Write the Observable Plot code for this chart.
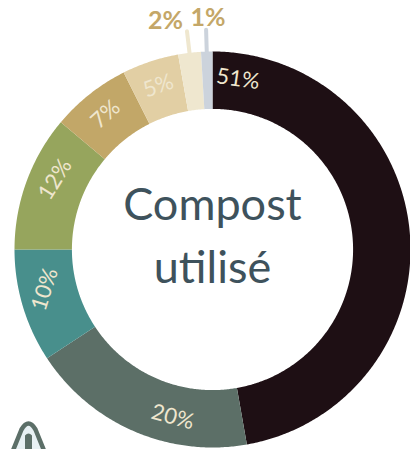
<!DOCTYPE html>
<html lang="fr">
<head>
<meta charset="utf-8">
<script src="https://cdn.jsdelivr.net/npm/d3@7"></script>
<script src="https://cdn.jsdelivr.net/npm/@observablehq/plot@0.6"></script>
<style>
  html, body { margin: 0; padding: 0; background: #fff; }
  svg { display: block; }
</style>
</head>
<body>
<div id="chart"></div>
<script>
// Share of each answer, as printed on the ring.
const labels = ["51%", "20%", "10%", "12%", "7%", "5%", "2%", "1%"];
const values = [51, 20, 10, 12, 7, 5, 2, 1];
const palette = ["#1e0f14", "#5c6f67", "#488f8c", "#96a55d", "#c2a768", "#e2cfa4", "#efe7cf", "#ccd3dc"];
const titleLines = ["Compost", "utilisé"];

// Where along its slice each inner label sits, and how far it is turned.
const labelAlong = [0.05, 0.35, 0.6, 0.6, 0.5, 0.5];
const labelTurn = [8, 15, -72, -58, -42, -20];

const width = 410, height = 449;
const cx = 212, cy = 249, outerPx = 198;
const inner = 0.71;
const total = d3.sum(values);

// Clockwise from twelve o'clock, in a unit-radius coordinate system.
const polar = (deg, r) => {
  const a = (deg * Math.PI) / 180;
  return { x: r * Math.sin(a), y: r * Math.cos(a) };
};

let running = 0;
const slices = values.map((v, i) => {
  const start = (running / total) * 360;
  running += v;
  return { label: labels[i], value: v, start, end: (running / total) * 360 };
});

// Each slice outline: the outer arc forward, the inner arc back.
const outline = slices.flatMap((s) => {
  const n = Math.max(2, Math.ceil(s.end - s.start) * 2);
  const angles = d3.range(n + 1).map((k) => s.start + ((s.end - s.start) * k) / n);
  return [
    ...angles.map((a) => ({ label: s.label, ...polar(a, 1) })),
    ...angles.slice().reverse().map((a) => ({ label: s.label, ...polar(a, inner) }))
  ];
});

const innerLabels = slices.slice(0, 6).map((s, i) => ({
  label: s.label,
  turn: labelTurn[i],
  ...polar(s.start + (s.end - s.start) * labelAlong[i], 0.87)
}));

// The two thinnest slices get their label outside the ring, on a leader.
const outerSlices = slices.slice(6).map((s) => {
  const mid = (s.start + s.end) / 2;
  const from = polar(mid, 0.995), to = polar(mid, 1.11);
  return { label: s.label, x1: from.x, y1: from.y, x2: to.x, y2: to.y };
});

// Badge shapes: a triangle with a rounded apex, and its upright stem.
const badgeShape = {
  draw(context) {
    context.moveTo(-24, 30);
    context.lineTo(-7, -12);
    context.quadraticCurveTo(0, -24, 7, -12);
    context.lineTo(24, 30);
    context.closePath();
  }
};
const stemShape = {
  draw(context) {
    context.moveTo(-3.5, 24);
    context.lineTo(-3.5, -6);
    context.quadraticCurveTo(0, -10, 3.5, -6);
    context.lineTo(3.5, 24);
    context.closePath();
  }
};

const plot = Plot.plot({
  width, height,
  margin: 0,
  style: { background: "#fff" },
  x: { domain: [-cx / outerPx, (width - cx) / outerPx], axis: null },
  y: { domain: [(cy - height) / outerPx, cy / outerPx], axis: null },
  color: { domain: labels, range: palette },
  marks: [
    Plot.line(outline, {
      x: "x", y: "y", z: "label", fill: "label",
      stroke: null, curve: "linear-closed"
    }),
    Plot.link(outerSlices, {
      x1: "x1", y1: "y1", x2: "x2", y2: "y2",
      stroke: "label", strokeWidth: 4, strokeLinecap: "round"
    }),
    Plot.text(innerLabels, {
      x: "x", y: "y", text: "label", rotate: "turn",
      fill: "#efe6ce", fontSize: 22, fontFamily: "Lato", fontWeight: 400,
      style: { letterSpacing: "1.5px" }
    }),
    Plot.text(outerSlices.filter((d) => d.label === "2%"), {
      x: "x2", y: "y2", text: "label", dx: -4, dy: -10, textAnchor: "end",
      fill: "#c4a768", fontSize: 25, fontWeight: 700, fontFamily: "Lato"
    }),
    Plot.text(outerSlices.filter((d) => d.label === "1%"), {
      x: "x2", y: "y2", text: "label", dx: 2, dy: -12,
      fill: "#c4a768", fontSize: 25, fontWeight: 700, fontFamily: "Lato"
    }),
    Plot.text([titleLines[0]], {
      text: (d) => d, x: () => 0, y: () => 0, dy: -44,
      fill: "#3e525c", fontSize: 45, fontFamily: "Lato", fontWeight: 400,
      style: { letterSpacing: "1.5px" }
    }),
    Plot.text([titleLines[1]], {
      text: (d) => d, x: () => 0, y: () => 0, dy: 19,
      fill: "#3e525c", fontSize: 45, fontFamily: "Lato", fontWeight: 400,
      style: { letterSpacing: "1.5px" }
    }),
    // Warning badge tucked into the bottom-left corner, cut by the frame.
    Plot.dot([0], {
      frameAnchor: "bottom-left", dx: 28, dy: -8, symbol: badgeShape,
      fill: "#e8f1f4", stroke: "#5c6f68", strokeWidth: 4.5, strokeLinejoin: "round"
    }),
    Plot.dot([0], {
      frameAnchor: "bottom-left", dx: 28, dy: -8, symbol: stemShape,
      fill: "#5c6f68", stroke: null
    })
  ]
});

document.getElementById("chart").append(plot);
</script>
</body>
</html>
